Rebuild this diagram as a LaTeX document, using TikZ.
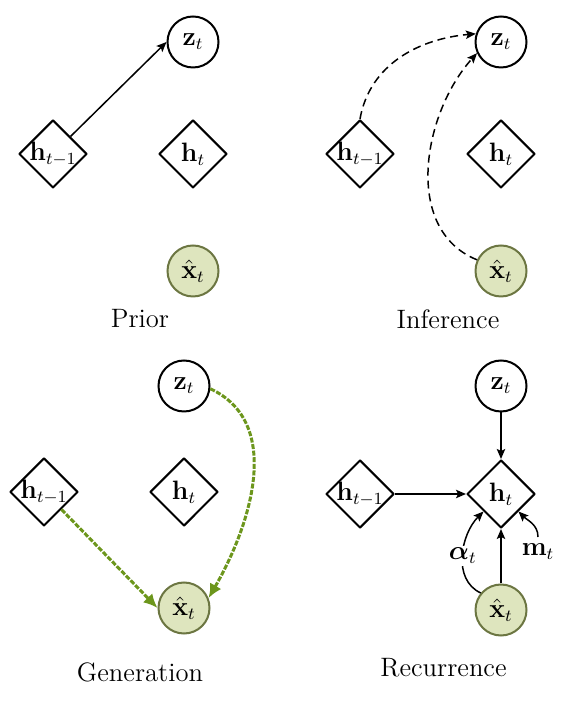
\RequirePackage{fix-cm}
\documentclass[tikz,border=0pt]{standalone}
\usepackage{amsmath,bm}
\usetikzlibrary{shapes.geometric,arrows.meta}
\DeclareMathSizes{13.3}{13.3}{8.5}{6.5}
\definecolor{obsfill}{RGB}{222,229,190}
\definecolor{obsdraw}{RGB}{108,118,66}
\definecolor{gen}{RGB}{108,150,28}
\begin{document}
\begin{tikzpicture}[x=0.5pt,y=0.5pt,
  every node/.style={font=\fontsize{13.3}{15}\selectfont},
  latent/.style={circle,draw,line width=1pt,minimum size=25.5pt,inner sep=0pt},
  obs/.style={latent,draw=obsdraw,fill=obsfill},
  det/.style={diamond,draw,line width=1pt,minimum size=34pt,inner sep=-4pt,aspect=1,line join=round},
  arr/.style={line width=0.75pt,-{Stealth[length=5pt,width=4.2pt,inset=1pt]}},
  darr/.style={arr,dash pattern=on 4pt off 2.5pt},
  garr/.style={line width=1.5pt,draw=gen,dash pattern=on 2.5pt off 0.8pt,-{Latex[length=7pt,width=6.5pt]}},
  lbl/.style={fill=white,inner sep=1pt}
]
\useasboundingbox (0,0) rectangle (573,711);

% Prior
\node[latent] (z1) at (193,669) {$\mathbf{z}_t$};
\node[det] (hp1) at (53,557) {$\mathbf{h}_{t{-}1}$};
\node[det] (h1) at (193,557) {$\mathbf{h}_t$};
\node[obs] (x1) at (193,440) {$\hat{\mathbf{x}}_t$};
\node (t1) at (140,392) {Prior};
\draw[arr] (hp1.north east) -- (z1.west);

% Inference
\node[latent] (z2) at (501,669) {$\mathbf{z}_t$};
\node[det] (hp2) at (360,557) {$\mathbf{h}_{t{-}1}$};
\node[det] (h2) at (501,557) {$\mathbf{h}_t$};
\node[obs] (x2) at (501,440) {$\hat{\mathbf{x}}_t$};
\node (t2) at (448,392) {Inference};
\draw[darr] (hp2.north) to[out=80,in=185] (z2.162);
\draw[darr] (x2.155) to[out=158,in=228] (z2.205);

% Generation
\node[latent] (z3) at (184,325) {$\mathbf{z}_t$};
\node[det] (hp3) at (44,219) {$\mathbf{h}_{t{-}1}$};
\node[det] (h3) at (184,219) {$\mathbf{h}_t$};
\node[obs] (x3) at (184,103) {$\hat{\mathbf{x}}_t$};
\node (t3) at (140,39) {Generation};
\draw[garr] (hp3.south east) -- (x3.west);
\draw[garr] (z3.-6) to[out=-25,in=60] (x3.22);

% Recurrence
\node[latent] (z4) at (501,325) {$\mathbf{z}_t$};
\node[det] (hp4) at (360,217) {$\mathbf{h}_{t{-}1}$};
\node[det] (h4) at (501,217) {$\mathbf{h}_t$};
\node[obs] (x4) at (501,101) {$\hat{\mathbf{x}}_t$};
\node (t4) at (443.5,43) {Recurrence};
\node (m4) at (538,159) {$\mathbf{m}_t$};
\draw[arr] (z4.south) -- (h4.north);
\draw[arr] (hp4.east) -- (h4.west);
\draw[arr] (x4.north) -- (h4.south);
\draw[arr] (x4.140) to[out=155,in=225] node[lbl] {$\boldsymbol{\alpha}_t$} (h4.south west);
\draw[arr] (m4.north) to[out=90,in=-45] (h4.south east);
\end{tikzpicture}
\end{document}
